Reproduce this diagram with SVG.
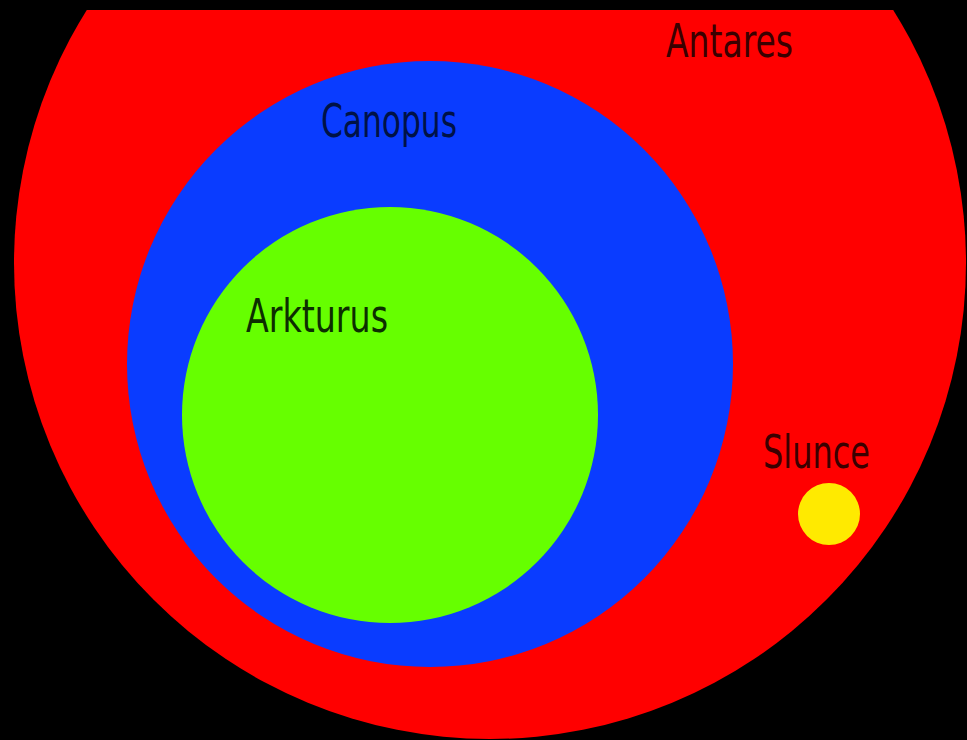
<svg xmlns="http://www.w3.org/2000/svg" width="967" height="740" viewBox="0 0 967 740">
<defs>
<style>
.lbl{font-family:"Liberation Sans Narrow","DejaVu Sans Condensed","Liberation Sans",sans-serif;font-size:46px;lengthAdjust:spacingAndGlyphs}
</style>
<clipPath id="frame"><rect x="0" y="10" width="967" height="730"/></clipPath>
</defs>
<rect x="0" y="0" width="967" height="740" fill="#000"/>
<g clip-path="url(#frame)">
<g id="antares">
<circle cx="490" cy="263" r="476" fill="#ff0000"/>
<text class="lbl" x="666" y="57" textLength="127" lengthAdjust="spacingAndGlyphs" fill="#3a0000">Antares</text>
</g>
<g id="canopus">
<circle cx="430" cy="364" r="303" fill="#0a3cff"/>
<text class="lbl" x="321" y="137" textLength="136" lengthAdjust="spacingAndGlyphs" fill="#001246">Canopus</text>
</g>
<g id="arkturus">
<circle cx="390" cy="415" r="208" fill="#66ff00"/>
<text class="lbl" x="246" y="332" textLength="142" lengthAdjust="spacingAndGlyphs" fill="#0c2e00">Arkturus</text>
</g>
<g id="slunce">
<text class="lbl" x="763" y="468" textLength="107" lengthAdjust="spacingAndGlyphs" fill="#3a0000">Slunce</text>
<circle cx="829" cy="514" r="31" fill="#ffea00"/>
</g>
</g>
<g id="connectors"/>
</svg>
